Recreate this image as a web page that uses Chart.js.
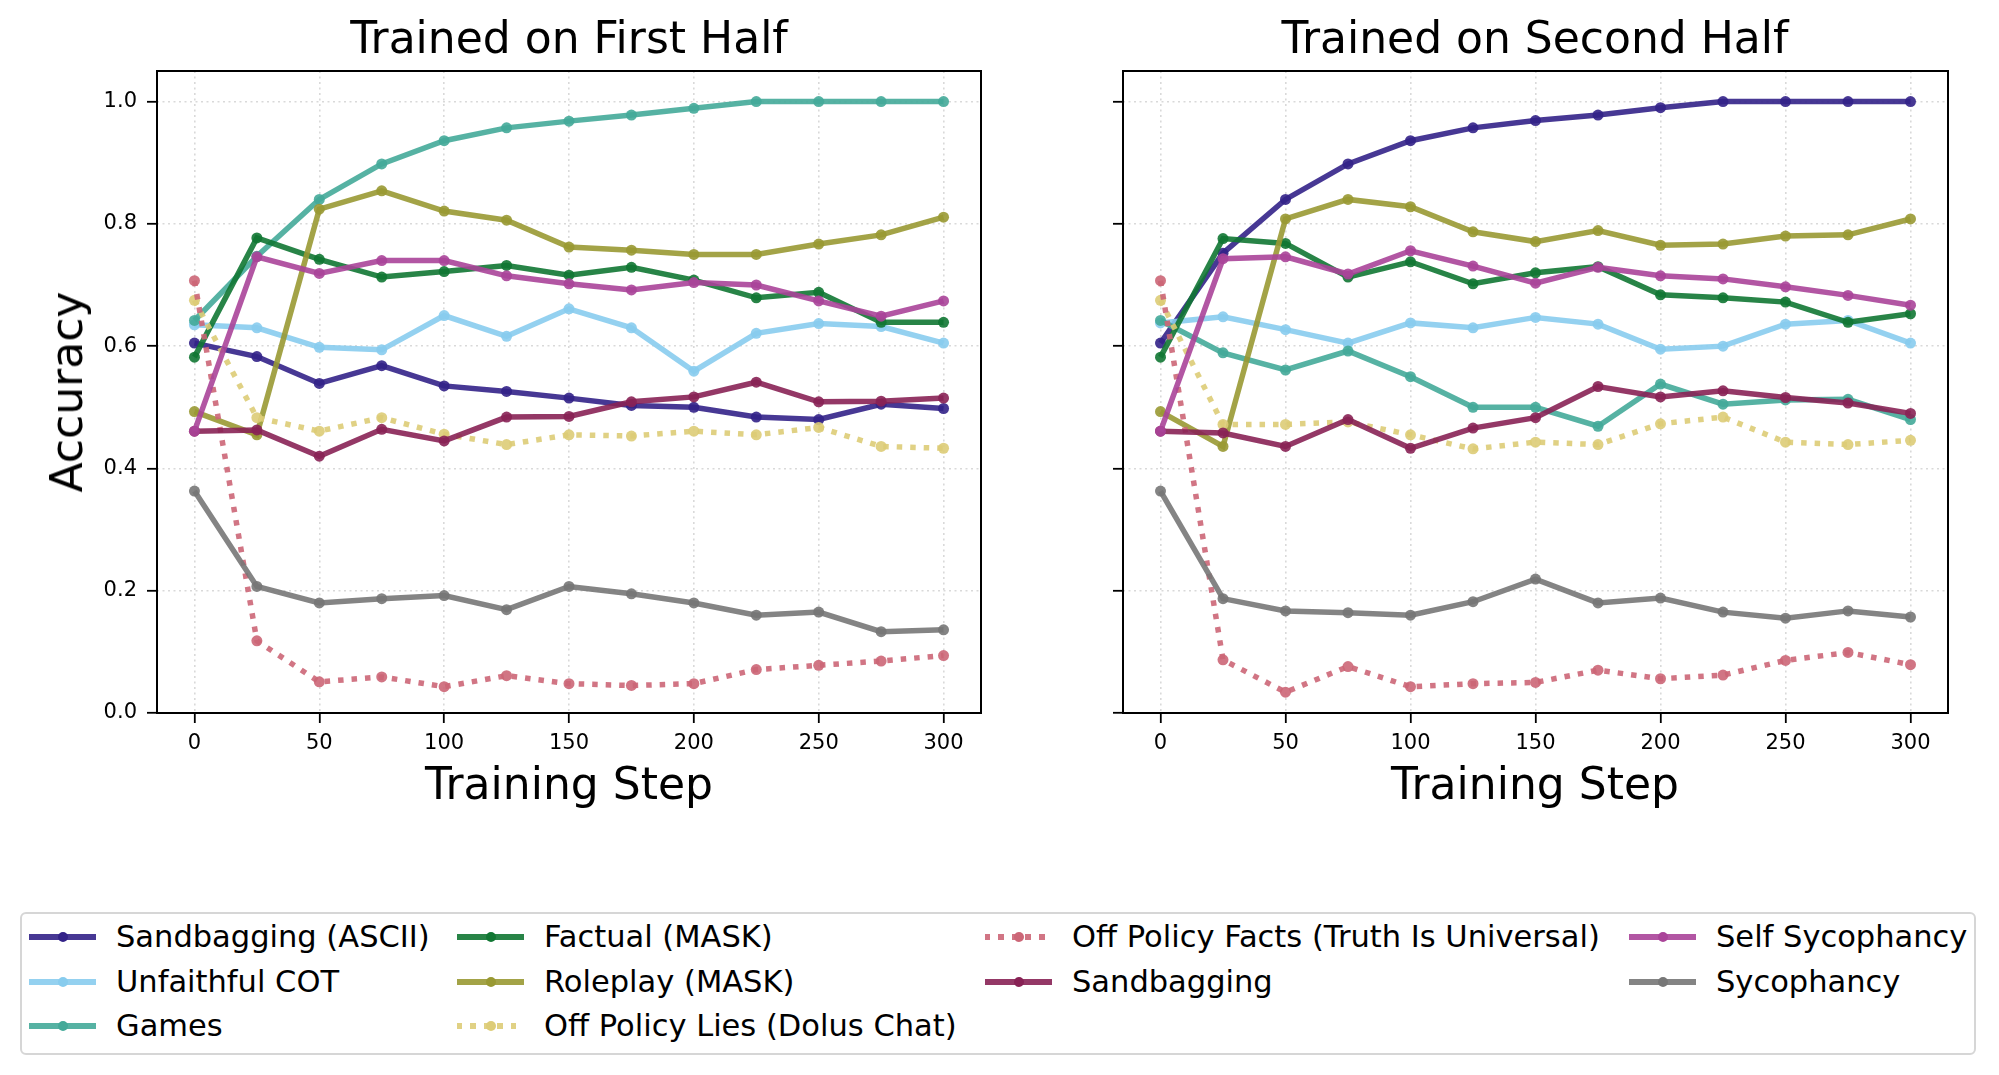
<!DOCTYPE html>
<html>
<head>
<meta charset="utf-8">
<script src="https://cdn.jsdelivr.net/npm/chart.js@4.4.1/dist/chart.umd.min.js"></script>
<style>
  html, body { margin: 0; padding: 0; background: #fff; }
  body { width: 1999px; height: 1075px; position: relative; overflow: hidden; font-family: 'DejaVu Sans', sans-serif; color: #000; }
  canvas { position: absolute; top: 0; }
  .lbl { position: absolute; white-space: nowrap; line-height: 1; transform: translate(-50%, -50%); }
  #legend { position: absolute; left: 20px; top: 912px; width: 1956px; height: 143px; border: 2px solid #d6d6d6; border-radius: 6px; box-sizing: border-box; }
  .item { position: absolute; height: 30px; }
  .item .txt { position: absolute; font-size: 30.5px; line-height: 30px; top: 0; white-space: nowrap; }
  .item .hl { position: absolute; top: 12px; height: 6px; width: 67px; }
  .item .dot { position: absolute; top: 10px; width: 10px; height: 10px; border-radius: 50%; }
</style>
</head>
<body>
<canvas id="first" width="1000" height="830" style="left:0px"></canvas>
<canvas id="second" width="999" height="830" style="left:1000px"></canvas>

<div class="lbl" style="left:569px; top:38px; font-size:44px;">Trained on First Half</div>
<div class="lbl" style="left:1535px; top:38px; font-size:44px;">Trained on Second Half</div>
<div class="lbl" style="left:569px; top:784px; font-size:44px;">Training Step</div>
<div class="lbl" style="left:1535px; top:784px; font-size:44px;">Training Step</div>
<div class="lbl" style="left:67px; top:392px; font-size:44px; transform: translate(-50%, -50%) rotate(-90deg);">Accuracy</div>

<div id="legend"></div>

<script>
// training steps + tick values
const steps = [0, 25, 50, 75, 100, 125, 150, 175, 200, 225, 250, 275, 300]
const xTicks = [0, 50, 100, 150, 200, 250, 300]
const yTicks = [0.0, 0.2, 0.4, 0.6, 0.8, 1.0]

const seriesNames = ['Sandbagging (ASCII)', 'Unfaithful COT', 'Games', 'Factual (MASK)', 'Roleplay (MASK)',
  'Off Policy Lies (Dolus Chat)', 'Off Policy Facts (Truth Is Universal)', 'Sandbagging', 'Self Sycophancy', 'Sycophancy']
const seriesColors = ['#332288', '#88CCEE', '#44AA99', '#117733', '#999933', '#DDCC77', '#CC6677', '#882255', '#AA4499', '#777777']
const seriesDotted = [false, false, false, false, false, true, true, false, false, false]

// trained on first half
const firstSandbagAscii = [0.605, 0.583, 0.539, 0.568, 0.535, 0.526, 0.515, 0.503, 0.500, 0.484, 0.480, 0.505, 0.498]
const firstUnfaithful   = [0.635, 0.630, 0.598, 0.594, 0.650, 0.616, 0.661, 0.630, 0.559, 0.621, 0.637, 0.632, 0.605]
const firstGames        = [0.642, 0.747, 0.840, 0.898, 0.936, 0.957, 0.968, 0.978, 0.989, 1.0, 1.0, 1.0, 1.0]
const firstFactual      = [0.582, 0.777, 0.742, 0.713, 0.722, 0.732, 0.716, 0.729, 0.708, 0.679, 0.688, 0.639, 0.639]
const firstRoleplay     = [0.493, 0.455, 0.824, 0.854, 0.821, 0.806, 0.762, 0.757, 0.750, 0.750, 0.767, 0.782, 0.811]
const firstLies         = [0.675, 0.483, 0.461, 0.483, 0.456, 0.439, 0.455, 0.453, 0.461, 0.455, 0.467, 0.436, 0.433]
const firstFacts        = [0.707, 0.118, 0.051, 0.059, 0.043, 0.061, 0.048, 0.045, 0.048, 0.071, 0.078, 0.085, 0.094]
const firstSandbag      = [0.461, 0.463, 0.420, 0.464, 0.445, 0.484, 0.485, 0.509, 0.517, 0.541, 0.509, 0.510, 0.515]
const firstSelfSyco     = [0.461, 0.746, 0.719, 0.740, 0.740, 0.715, 0.702, 0.692, 0.704, 0.700, 0.674, 0.649, 0.674]
const firstSyco         = [0.363, 0.207, 0.180, 0.187, 0.192, 0.169, 0.207, 0.195, 0.180, 0.160, 0.165, 0.133, 0.136]

// trained on second half
const secondSandbagAscii = [0.605, 0.752, 0.840, 0.898, 0.936, 0.957, 0.969, 0.978, 0.990, 1.0, 1.0, 1.0, 1.0]
const secondUnfaithful   = [0.638, 0.648, 0.627, 0.605, 0.638, 0.630, 0.647, 0.636, 0.595, 0.600, 0.636, 0.642, 0.605]
const secondGames        = [0.642, 0.589, 0.561, 0.592, 0.550, 0.500, 0.500, 0.469, 0.538, 0.505, 0.512, 0.513, 0.480]
const secondFactual      = [0.582, 0.776, 0.768, 0.713, 0.738, 0.702, 0.720, 0.730, 0.684, 0.679, 0.672, 0.639, 0.653]
const secondRoleplay     = [0.493, 0.436, 0.808, 0.840, 0.828, 0.787, 0.771, 0.789, 0.765, 0.767, 0.780, 0.782, 0.808]
const secondLies         = [0.675, 0.472, 0.472, 0.476, 0.455, 0.432, 0.443, 0.439, 0.473, 0.484, 0.443, 0.439, 0.446]
const secondFacts        = [0.707, 0.087, 0.034, 0.076, 0.043, 0.048, 0.050, 0.070, 0.056, 0.062, 0.086, 0.099, 0.079]
const secondSandbag      = [0.461, 0.458, 0.436, 0.480, 0.433, 0.466, 0.483, 0.534, 0.517, 0.527, 0.516, 0.507, 0.490]
const secondSelfSyco     = [0.461, 0.743, 0.746, 0.718, 0.756, 0.731, 0.703, 0.729, 0.715, 0.710, 0.697, 0.683, 0.667]
const secondSyco         = [0.363, 0.187, 0.167, 0.164, 0.160, 0.182, 0.219, 0.180, 0.188, 0.165, 0.155, 0.167, 0.157]

const firstValues = [firstSandbagAscii, firstUnfaithful, firstGames, firstFactual, firstRoleplay,
  firstLies, firstFacts, firstSandbag, firstSelfSyco, firstSyco]
const secondValues = [secondSandbagAscii, secondUnfaithful, secondGames, secondFactual, secondRoleplay,
  secondLies, secondFacts, secondSandbag, secondSelfSyco, secondSyco]


function withAlpha(hex, a){
  const n = parseInt(hex.slice(1), 16)
  return 'rgba(' + (n >> 16) + ',' + ((n >> 8) & 255) + ',' + (n & 255) + ',' + a + ')'
}

// black box round the plot area, like matplotlib spines
const frameBox = {
  id: 'frameBox',
  afterDatasetsDraw(chart){
    const {ctx, chartArea} = chart
    ctx.save()
    ctx.strokeStyle = '#000'
    ctx.lineWidth = 2
    ctx.strokeRect(chartArea.left, chartArea.top, chartArea.right - chartArea.left, chartArea.bottom - chartArea.top)
    ctx.restore()
  }
}

function makeChart(id, values, yAxisWidth, rightPad, showYLabels){

  const datasets = values.map((vals, i) => ({
    label: seriesNames[i],
    data: vals.map((v, j) => ({x: steps[j], y: v})),
    borderColor: withAlpha(seriesColors[i], 0.9),
    backgroundColor: withAlpha(seriesColors[i], 0.9),
    pointBackgroundColor: withAlpha(seriesColors[i], 0.9),
    pointBorderWidth: 0,
    pointRadius: 5.5,
    borderWidth: 5.5,
    borderDash: seriesDotted[i] ? [5.5, 8] : [],
    borderCapStyle: 'butt',
    tension: 0,
    order: values.length - i
  }))

  const gridOpts = {
    color: '#d9d9d9',
    lineWidth: 1.6,
    tickColor: '#000',
    tickWidth: 1.8,
    tickLength: 10,
    tickBorderDash: []
  }

  return new Chart(document.getElementById(id), {
    type: 'line',
    data: { datasets },
    options: {
      responsive: false,
      animation: false,
      devicePixelRatio: 1,
      layout: { padding: { top: 71, right: rightPad, bottom: 0, left: 0 } },
      plugins: {
        legend: { display: false },
        title: { display: false },
        tooltip: { enabled: false }
      },
      scales: {
        x: {
          type: 'linear',
          min: -15,
          max: 315,
          afterBuildTicks: s => { s.ticks = xTicks.map(v => ({value: v})) },
          afterFit: s => { s.height = 117 },
          grid: gridOpts,
          border: { display: false, dash: [2, 3.5] },
          ticks: {
            color: '#000',
            padding: 8,
            maxRotation: 0,
            font: { family: 'DejaVu Sans', size: 21 },
            callback: v => String(v)
          }
        },
        y: {
          min: 0,
          max: 1.05,
          afterBuildTicks: s => { s.ticks = yTicks.map(v => ({value: v})) },
          afterFit: s => { s.width = yAxisWidth },
          grid: gridOpts,
          border: { display: false, dash: [2, 3.5] },
          ticks: {
            color: '#000',
            padding: 10,
            font: { family: 'DejaVu Sans', size: 21 },
            callback: v => showYLabels ? v.toFixed(1) : ''
          }
        }
      }
    },
    plugins: [frameBox]
  })
}

makeChart('first', firstValues, 157, 19, true)
makeChart('second', secondValues, 123, 51, false)


// legend, matplotlib style with 4 columns filled column by column
const legendCols = [[0, 1, 2], [3, 4, 5], [6, 7], [8, 9]]
const handleX = [7, 435, 963, 1607]
const textX = [94, 522, 1050, 1694]
const rowY = [8, 53, 97]

const legend = document.getElementById('legend')
legendCols.forEach((col, c) => {
  col.forEach((idx, r) => {
    const item = document.createElement('div')
    item.className = 'item'
    item.style.left = '0px'
    item.style.top = rowY[r] + 'px'

    const col90 = withAlpha(seriesColors[idx], 0.9)
    const hl = document.createElement('div')
    hl.className = 'hl'
    hl.style.left = handleX[c] + 'px'
    if(seriesDotted[idx]){
      hl.style.background = 'repeating-linear-gradient(to right, ' + col90 + ' 0px, ' + col90 + ' 5.5px, transparent 5.5px, transparent 13.5px)'
    }else{
      hl.style.background = col90
    }
    const dot = document.createElement('div')
    dot.className = 'dot'
    dot.style.left = (handleX[c] + 33.5 - 5) + 'px'
    dot.style.background = seriesColors[idx]

    const txt = document.createElement('div')
    txt.className = 'txt'
    txt.style.left = textX[c] + 'px'
    txt.textContent = seriesNames[idx]

    item.appendChild(hl)
    item.appendChild(dot)
    item.appendChild(txt)
    legend.appendChild(item)
  })
})
</script>
</body>
</html>
